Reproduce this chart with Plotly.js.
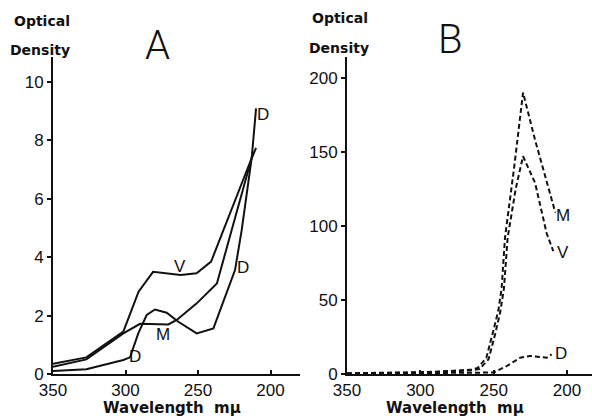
<!DOCTYPE html>
<html><head><meta charset="utf-8">
<script src="https://cdn.plot.ly/plotly-3.0.1.min.js"></script>
<style>html,body{margin:0;padding:0;background:#fff}#chart{width:592px;height:418px}</style>
</head><body><div id="chart"></div>
<script>
// Panel A (solid curves): wavelength in mμ, optical density
const aV_wl = [350, 327, 301.5, 291, 281, 271, 262, 251, 241, 213, 211.5];
const aV_od = [0.35, 0.57, 1.45, 2.82, 3.5, 3.45, 3.39, 3.45, 3.85, 7.4, 7.6];
const aM_wl = [350, 327, 301.5, 290, 270.5, 264.7, 250.9, 237, 226.8, 213, 210];
const aM_od = [0.25, 0.5, 1.39, 1.72, 1.7, 1.85, 2.42, 3.1, 4.93, 7.4, 7.75];
const aD_wl = [350, 327, 301.5, 296.9, 291.2, 285.4, 279.7, 271.6, 263.6, 250.9, 239.4, 224.5, 219.9, 216.4, 213, 210];
const aD_od = [0.1, 0.16, 0.48, 0.57, 1.39, 2.02, 2.21, 2.1, 1.79, 1.39, 1.56, 3.56, 4.93, 6.15, 7.4, 9.1];

// Panel B (dashed curves)
const bM_wl = [350, 320, 300, 280, 265, 261, 255, 250.3, 246.8, 244.6, 242.3, 236, 230, 221.8, 213.9, 209.4, 208];
const bM_od = [0.5, 0.8, 1.2, 2, 3, 4, 11, 29, 43, 58, 92, 140, 190, 158, 129, 113, 109];
const bV_wl = [350, 320, 300, 280, 265, 259.5, 253.5, 249, 245.5, 243, 240.5, 235, 230, 221.8, 213.9, 209.4];
const bV_od = [0.3, 0.6, 1, 1.8, 2.5, 3.5, 10, 27, 42, 58, 92, 125, 147, 129, 95, 83];
const bD_wl = [350, 320, 300, 280, 265, 250, 241, 232, 225, 213.9, 210.5];
const bD_od = [0.2, 0.4, 0.6, 1, 1.2, 1, 5.4, 11, 12.2, 11, 13.3];

const xTicks = [350, 300, 250, 200];
const aYTicks = [0, 2, 4, 6, 8, 10];
const bYTicks = [0, 50, 100, 150, 200];

const INK = '#111';
const solid = {color: INK, width: 2};
const dashed = {color: INK, width: 2, dash: '5px,3px'};

const traces = [
  {x: aV_wl, y: aV_od, mode: 'lines', line: solid, xaxis: 'x', yaxis: 'y'},
  {x: aM_wl, y: aM_od, mode: 'lines', line: solid, xaxis: 'x', yaxis: 'y'},
  {x: aD_wl, y: aD_od, mode: 'lines', line: solid, xaxis: 'x', yaxis: 'y'},
  {x: bM_wl, y: bM_od, mode: 'lines', line: dashed, xaxis: 'x2', yaxis: 'y2'},
  {x: bV_wl, y: bV_od, mode: 'lines', line: dashed, xaxis: 'x2', yaxis: 'y2'},
  {x: bD_wl, y: bD_od, mode: 'lines', line: dashed, xaxis: 'x2', yaxis: 'y2'}
];

const SANS = 'Liberation Sans, Arial, sans-serif';
const tickFont = {family: SANS, size: 17, color: INK};
const axisCommon = {
  showline: true, linewidth: 2, linecolor: INK, mirror: false,
  showgrid: false, zeroline: false, tickfont: tickFont,
  tickcolor: INK, tickwidth: 2, ticklen: 4, fixedrange: true
};

const W = 592, plotTop = 57, plotBottom = 374, H = plotBottom - plotTop;
const px = v => v / W;
const py = v => (plotBottom - v) / H;

// curve labels placed in data coordinates
const lbl = (text, x, y, xref, yref) => ({
  text, x, y, xref, yref, showarrow: false, xanchor: 'center', yanchor: 'middle',
  font: {family: SANS, size: 17, color: INK}
});
// headings placed in page pixels
const hdr = (text, x, y, size, weight, family) => ({
  text, x: px(x), y: py(y), xref: 'paper', yref: 'paper', showarrow: false,
  xanchor: 'center', yanchor: 'middle',
  font: {family: family || 'DejaVu Sans, sans-serif', size: size, color: INK, weight: weight || 'bold'}
});
const LIGHT = 'Roboto, Lato, sans-serif';

const annotations = [
  // curve labels, panel A
  lbl('D', 205.2, 8.9, 'x', 'y'),
  lbl('V', 262.4, 3.7, 'x', 'y'),
  lbl('D', 219, 3.65, 'x', 'y'),
  lbl('M', 274, 1.35, 'x', 'y'),
  lbl('D', 293.4, 0.6, 'x', 'y'),
  // curve labels, panel B
  lbl('M', 202.8, 107, 'x2', 'y2'),
  lbl('V', 202.8, 82, 'x2', 'y2'),
  lbl('D', 204, 14, 'x2', 'y2'),
  // panel letters
  hdr('A', 157, 45, 40, 300, LIGHT),
  hdr('B', 450, 40, 40, 300, LIGHT),
  // y axis headings
  hdr('Optical', 42, 21, 14),
  hdr('Density', 40, 50, 14),
  hdr('Optical', 340, 18, 14),
  hdr('Density', 339, 48, 14),
  // x axis titles
  hdr('Wavelength  mμ', 172, 408, 15),
  hdr('Wavelength  mμ', 455, 408, 15)
];

const layout = {
  width: 592, height: 418,
  margin: {l: 0, r: 0, t: plotTop, b: 418 - plotBottom, pad: 0},
  paper_bgcolor: '#fff', plot_bgcolor: '#fff',
  showlegend: false,
  xaxis: Object.assign({}, axisCommon, {domain: [px(53), px(300)], range: [350, 179.7],
    tickvals: xTicks, ticks: 'inside', anchor: 'y'}),
  yaxis: Object.assign({}, axisCommon, {domain: [0, 1], range: [0, 10.86],
    tickvals: aYTicks, ticks: 'outside', anchor: 'x'}),
  xaxis2: Object.assign({}, axisCommon, {domain: [px(347), 1], range: [350, 183],
    tickvals: xTicks, ticks: 'inside', anchor: 'y2'}),
  yaxis2: Object.assign({}, axisCommon, {domain: [0, 1], range: [0, 214],
    tickvals: bYTicks, ticks: 'outside', anchor: 'x2'}),
  annotations
};

Plotly.newPlot('chart', traces, layout, {staticPlot: true, displayModeBar: false});
</script>
</body></html>
